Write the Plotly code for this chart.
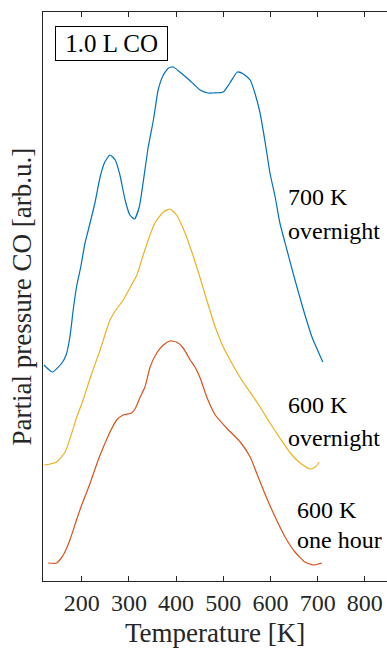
import plotly.graph_objects as go

# Temperature [K] and partial pressure CO [arb.u.]
t_700_overnight = [120, 138, 158, 167, 175, 182, 189, 198, 207, 214, 228, 239, 249, 260, 271, 281,
                   292, 302, 312, 322, 331, 341, 352, 362, 373, 384, 394, 408, 423, 437, 451, 468,
                   479, 500, 514, 530, 543, 557, 567, 578, 589, 599, 610, 620, 635, 652, 670, 688,
                   711]
p_700_overnight = [216, 209, 218, 226, 244, 271, 294, 314, 338, 351, 378, 404, 419, 426, 421, 406,
                   381, 366, 362, 374, 401, 434, 461, 491, 506, 513, 514, 509, 503, 497, 491, 488,
                   488, 489, 498, 509, 507, 501, 488, 468, 438, 408, 384, 358, 331, 301, 271, 244,
                   219]

t_600_overnight = [120, 133, 147, 165, 179, 189, 203, 218, 239, 260, 274, 288, 302, 317, 327, 341,
                   355, 373, 387, 401, 419, 437, 451, 465, 483, 500, 518, 539, 564, 582, 599, 620,
                   642, 663, 684, 695, 704]
p_600_overnight = [116, 117, 119, 129, 148, 163, 181, 203, 231, 261, 272, 281, 293, 306, 321, 341,
                   358, 369, 372, 366, 348, 324, 303, 281, 254, 234, 218, 201, 184, 171, 158, 143,
                   128, 118, 112, 114, 119]

t_600_one_hour = [129, 147, 161, 175, 189, 200, 218, 235, 246, 260, 274, 288, 306, 313, 324, 334,
                  345, 359, 373, 387, 401, 415, 430, 440, 451, 465, 483, 507, 536, 557, 574, 592,
                  610, 631, 652, 673, 691, 709]
p_600_one_hour = [18, 18, 26, 41, 61, 76, 98, 121, 134, 149, 161, 166, 168, 172, 184, 194,
                  214, 228, 236, 240, 239, 233, 221, 214, 203, 184, 166, 153, 139, 124, 104, 83,
                  64, 44, 29, 19, 16, 18]

x_ticks = [200, 300, 400, 500, 600, 700, 800]

FONT = "Liberation Serif, Times New Roman, serif"
AX = "#262626"

fig = go.Figure()
for t, p, c in [(t_700_overnight, p_700_overnight, "#0072BD"),
                (t_600_overnight, p_600_overnight, "#EDB120"),
                (t_600_one_hour, p_600_one_hour, "#D95319")]:
    fig.add_trace(go.Scatter(x=t, y=p, mode="lines",
                             line=dict(color=c, width=1.2, shape="spline", smoothing=0.5),
                             showlegend=False, hoverinfo="skip"))

labels = [
    (635, 384, "700 K"), (635, 350, "overnight"),
    (635, 176, "600 K"), (635, 143, "overnight"),
    (654, 71, "600 K"), (654, 41, "one hour"),
]
for x, y, s in labels:
    fig.add_annotation(x=x, y=y, text=s, showarrow=False, xanchor="left", yanchor="middle",
                       borderpad=0, font=dict(family=FONT, size=24, color="black"))

fig.add_annotation(x=0.035, y=0.975, xref="paper", yref="paper", text="&nbsp;1.0 L CO&nbsp;",
                   showarrow=False, xanchor="left", yanchor="top",
                   font=dict(family=FONT, size=25, color="black"),
                   bordercolor="black", borderwidth=1, borderpad=3, bgcolor="white")

# axis titles placed as paper-anchored text
fig.add_annotation(x=0.5, y=0, xref="paper", yref="paper", yshift=-52, text="Temperature [K]",
                   showarrow=False, xanchor="center", yanchor="middle",
                   font=dict(family=FONT, size=27, color=AX))
fig.add_annotation(x=0, y=0.5, xref="paper", yref="paper", xshift=-22,
                   text="Partial pressure CO [arb.u.]", textangle=-90,
                   showarrow=False, xanchor="center", yanchor="middle",
                   font=dict(family=FONT, size=27, color=AX))

fig.update_layout(
    width=387, height=649,
    margin=dict(l=43, r=0, t=12, b=68),
    paper_bgcolor="white", plot_bgcolor="white",
    font=dict(family=FONT, color=AX),
    xaxis=dict(range=[118, 847], tickvals=x_ticks, ticks="inside", ticklen=5,
               tickcolor=AX, showline=True, linecolor=AX, linewidth=1, mirror="ticks",
               showgrid=False, zeroline=False, tickfont=dict(size=24, color=AX),
               automargin=False),
    yaxis=dict(range=[0, 569], showticklabels=False, ticks="", showline=True,
               linecolor=AX, linewidth=1, mirror=False, showgrid=False, zeroline=False,
               automargin=False),
)

fig.write_html("out.html", config={"displayModeBar": False, "staticPlot": True},
               post_script="document.body.style.margin='0';document.body.style.padding='0';"
                           "document.body.style.overflow='hidden';")
